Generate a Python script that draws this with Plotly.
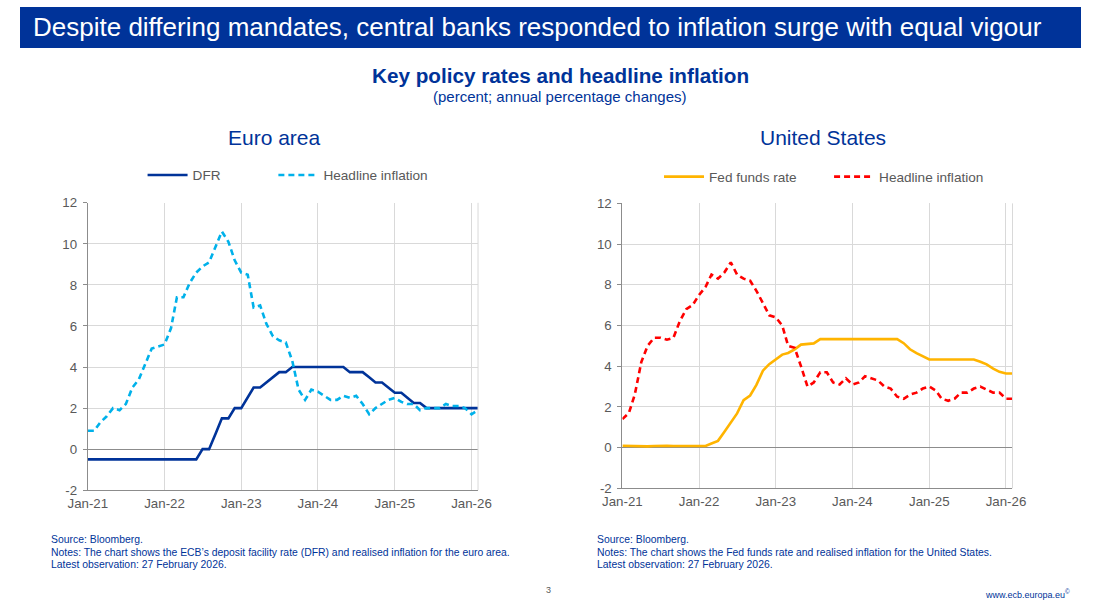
import pandas as pd
import plotly.graph_objects as go

# ---------------- data ----------------
months = pd.date_range("2021-01-01", "2026-02-01", freq="MS")

ea_dfr = ([-0.5] * 12 +
          [-0.5] * 6 + [0.0, 0.0, 0.75, 1.5, 1.5, 2.0] +
          [2.0, 2.5, 3.0, 3.0, 3.25, 3.5, 3.75, 3.75, 4.0, 4.0, 4.0, 4.0] +
          [4.0] * 5 + [3.75, 3.75, 3.75, 3.5, 3.25, 3.25, 3.0] +
          [2.75, 2.75, 2.5, 2.25, 2.25, 2.0] + [2.0] * 6 +
          [2.0, 2.0])

ea_infl = [0.9, 0.9, 1.3, 1.6, 2.0, 1.9, 2.2, 3.0, 3.4, 4.1, 4.9, 5.0,
           5.1, 5.9, 7.4, 7.4, 8.1, 8.6, 8.9, 9.1, 9.9, 10.6, 10.1, 9.2,
           8.6, 8.5, 6.9, 7.0, 6.1, 5.5, 5.3, 5.2, 4.3, 2.9, 2.4, 2.9,
           2.8, 2.6, 2.4, 2.4, 2.6, 2.5, 2.6, 2.2, 1.7, 2.0, 2.2, 2.4,
           2.5, 2.3, 2.2, 2.2, 1.9, 2.0, 2.0, 2.0, 2.2, 2.1, 2.1, 2.0,
           1.7, 1.9]

us_ffr = ([0.09, 0.08, 0.07, 0.07, 0.06, 0.08, 0.10, 0.09, 0.08, 0.08, 0.08, 0.08] +
          [0.08, 0.08, 0.20, 0.33, 0.77, 1.21, 1.68, 2.33, 2.56, 3.08, 3.78, 4.10] +
          [4.33, 4.57, 4.65, 4.83, 5.06, 5.08, 5.12, 5.33, 5.33, 5.33, 5.33, 5.33] +
          [5.33] * 8 + [5.13, 4.83, 4.64, 4.48] +
          [4.33] * 8 + [4.22, 4.09, 3.88, 3.72] +
          [3.64, 3.64])

us_infl = [1.4, 1.7, 2.6, 4.2, 5.0, 5.4, 5.4, 5.3, 5.4, 6.2, 6.8, 7.0,
           7.5, 7.9, 8.5, 8.3, 8.6, 9.1, 8.5, 8.3, 8.2, 7.7, 7.1, 6.5,
           6.4, 6.0, 5.0, 4.9, 4.0, 3.0, 3.2, 3.7, 3.7, 3.2, 3.1, 3.4,
           3.1, 3.2, 3.5, 3.4, 3.3, 3.0, 2.9, 2.5, 2.4, 2.6, 2.7, 2.9,
           3.0, 2.8, 2.4, 2.3, 2.4, 2.7, 2.7, 2.9, 3.0, 2.85, 2.7, 2.7,
           2.4, 2.4]

y_ticks = [-2, 0, 2, 4, 6, 8, 10, 12]
y_tick_labels = [str(v) for v in y_ticks]

# ---------------- styling ----------------
W, H = 1095, 615
NAVY = "#003399"
LIGHTBLUE = "#00B1EA"
ORANGE = "#FFB400"
RED = "#FF0000"
GRID = "#D9D9D9"
AXIS = "#8C8C8C"
TXT = "#595959"
FONT = "Liberation Sans, Arial, sans-serif"


def px_x(p):
    return p / W


def px_y(p):
    return 1 - p / H


fig = go.Figure()

fig.add_trace(go.Scatter(x=months, y=ea_dfr, name="DFR", mode="lines",
                         line=dict(color=NAVY, width=2.6), xaxis="x", yaxis="y",
                         legend="legend", showlegend=True, hoverinfo="skip"))
fig.add_trace(go.Scatter(x=months, y=ea_infl, name="Headline inflation", mode="lines",
                         line=dict(color=LIGHTBLUE, width=2.6, dash="6px,4px"),
                         xaxis="x", yaxis="y", legend="legend2", showlegend=True,
                         hoverinfo="skip"))
fig.add_trace(go.Scatter(x=months, y=us_ffr, name="Fed funds rate", mode="lines",
                         line=dict(color=ORANGE, width=2.6), xaxis="x2", yaxis="y2",
                         legend="legend3", showlegend=True, hoverinfo="skip"))
fig.add_trace(go.Scatter(x=months, y=us_infl, name="Headline inflation", mode="lines",
                         line=dict(color=RED, width=2.6, dash="6px,4px"),
                         xaxis="x2", yaxis="y2", legend="legend4", showlegend=True,
                         hoverinfo="skip"))

xr = ["2021-01-01", "2026-02-01"]
dom_l = [px_x(70), px_x(472.7)]
dom_r = [px_x(621.7), px_x(1024.3)]
ydom_l = [px_y(495.3), px_y(200.7)]
ydom_r = [px_y(493.3), px_y(201.3)]


def xaxis(domain, anchor):
    return dict(domain=domain, anchor=anchor, type="date", range=xr,
                tick0="2021-01-01", dtick="M12", tickformat="%b-%y",
                showgrid=True, gridcolor=GRID, gridwidth=1,
                showline=True, linecolor=AXIS, linewidth=1,
                ticks="", ticklabelstandoff=1,
                tickfont=dict(family=FONT, size=13.3, color=TXT))


def yaxis(domain, anchor):
    return dict(domain=domain, anchor=anchor, range=[-2, 12],
                tickvals=y_ticks, ticktext=y_tick_labels,
                showgrid=True, gridcolor=GRID, gridwidth=1,
                showline=True, linecolor=AXIS, linewidth=1,
                ticks="outside", ticklen=4, tickcolor=AXIS, ticklabelstandoff=3,
                zeroline=True, zerolinecolor=AXIS, zerolinewidth=1,
                tickfont=dict(family=FONT, size=13.3, color=TXT))


def zero_ticks(domain, overlay, ydom):
    # tick marks sitting on the zero line
    zero_pos = ydom[0] + (ydom[1] - ydom[0]) * (0 - (-2)) / 14
    return dict(domain=domain, overlaying=overlay, anchor="free", position=zero_pos,
                type="date", range=xr, tick0="2021-01-01", dtick="M12",
                ticks="outside", ticklen=4, tickcolor=AXIS, showticklabels=False,
                showgrid=False, showline=False, zeroline=False)


def legend(xpx, ypx):
    return dict(x=px_x(xpx), y=px_y(ypx), xanchor="left", yanchor="middle",
                orientation="h", bgcolor="rgba(0,0,0,0)", borderwidth=0,
                itemwidth=40, font=dict(family=FONT, size=13.6, color=TXT),
                itemclick=False, itemdoubleclick=False, visible=True)


fig.update_layout(
    autosize=True,
    margin=dict(l=0, r=0, t=0, b=0),
    paper_bgcolor="white", plot_bgcolor="white",
    showlegend=True,
    hovermode=False,
    xaxis=xaxis(dom_l, "y"),
    yaxis=yaxis(ydom_l, "x"),
    xaxis2=xaxis(dom_r, "y2"),
    yaxis2=yaxis(ydom_r, "x2"),
    xaxis3=zero_ticks(dom_l, "x", ydom_l),
    xaxis4=zero_ticks(dom_r, "x2", ydom_r),
    legend=legend(126.5, 172.3),
    legend2=legend(261.5, 172.3),
    legend3=legend(659.5, 174),
    legend4=legend(835, 174),
    font=dict(family=FONT),
)

shapes = [
    dict(type="rect", xref="paper", yref="paper", x0=0, x1=1, y0=px_y(42), y1=1,
         fillcolor=NAVY, line=dict(width=0), layer="below"),
    dict(type="line", xref="x domain", yref="y domain", x0=1, x1=1, y0=0, y1=1,
         line=dict(color=GRID, width=1)),
    dict(type="line", xref="x2 domain", yref="y2 domain", x0=1, x1=1, y0=0, y1=1,
         line=dict(color=GRID, width=1)),
]
fig.update_layout(shapes=shapes)


def ann(text, xpx, ypx, size, color, xanchor="center", bold=False):
    return dict(text=f"<b>{text}</b>" if bold else text, x=px_x(xpx), y=px_y(ypx),
                xref="paper", yref="paper", xanchor=xanchor, yanchor="middle",
                showarrow=False, font=dict(family=FONT, size=size, color=color))


FN = 10.4
annotations = [
    ann("Despite differing mandates, central banks responded to inflation surge with equal vigour",
        11, 20, 26, "white", xanchor="left"),
    ann("Key policy rates and headline inflation", 558, 70, 20.7, NAVY, bold=True),
    ann("(percent; annual percentage changes)", 557.5, 92, 15, NAVY),
    ann("Euro area", 263, 134, 21, NAVY),
    ann("United States", 829, 134, 21, NAVY),
    ann("Source: Bloomberg.", 30, 546, FN, NAVY, xanchor="left"),
    ann("Notes: The chart shows the ECB’s deposit facility rate (DFR) and realised inflation for the euro area.",
        30, 558.7, FN, NAVY, xanchor="left"),
    ann("Latest observation: 27 February 2026.", 30, 571.2, FN, NAVY, xanchor="left"),
    ann("Source: Bloomberg.", 593, 546, FN, NAVY, xanchor="left"),
    ann("Notes: The chart shows the Fed funds rate and realised inflation for the United States.",
        593, 558.7, FN, NAVY, xanchor="left"),
    ann("Latest observation: 27 February 2026.", 593, 571.2, FN, NAVY, xanchor="left"),
    ann("3", 545, 598, 9, TXT),
    ann("www.ecb.europa.eu<sup>©</sup>", 1086, 602, 9, NAVY, xanchor="right"),
]
fig.update_layout(annotations=annotations)

fig.write_html("out.html",
               config={"displayModeBar": False, "responsive": True},
               default_width="100vw", default_height="100vh",
               post_script="document.body.style.margin='0px';"
                           "document.body.style.overflow='hidden';")
